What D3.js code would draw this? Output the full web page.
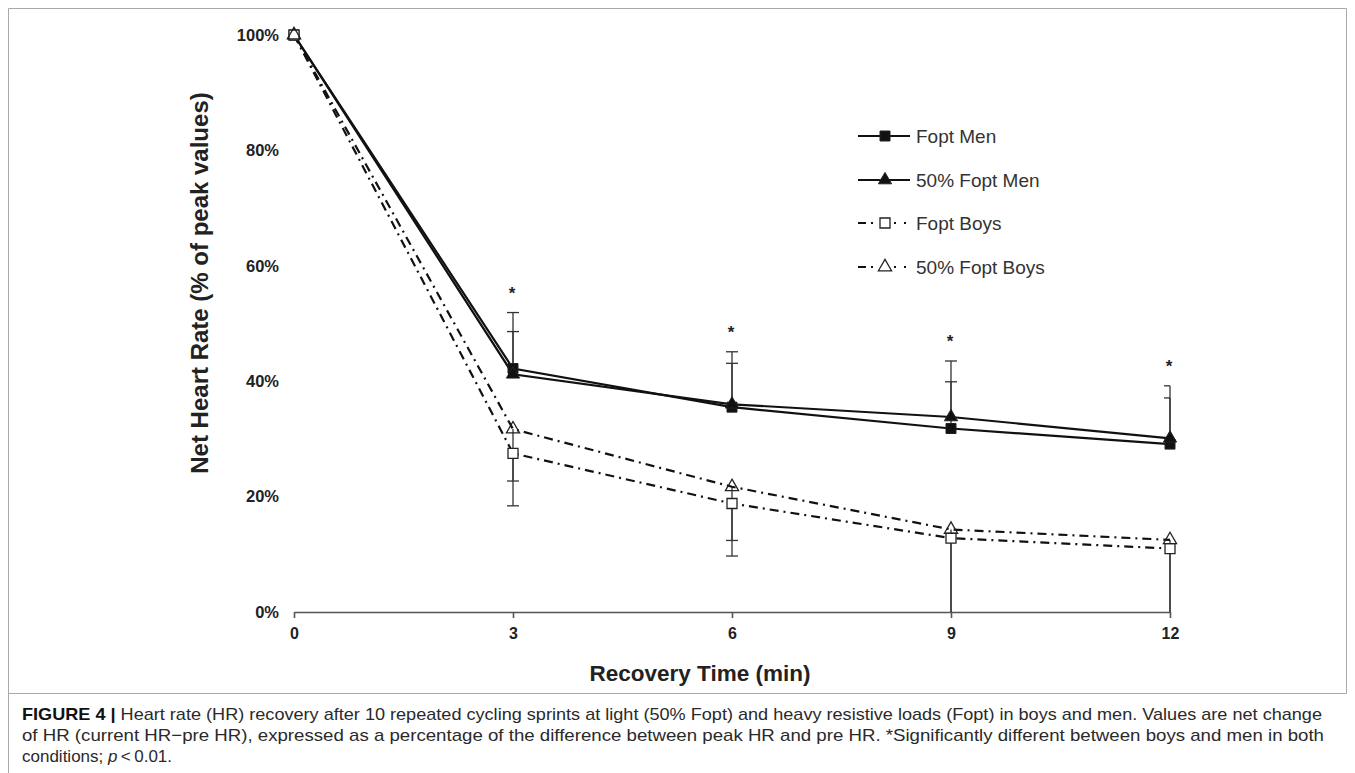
<!DOCTYPE html>
<html><head><meta charset="utf-8">
<script src="https://cdn.jsdelivr.net/npm/d3@7"></script>
<style>
html,body{margin:0;padding:0;background:#fff;}
svg{display:block;font-family:"Liberation Sans",Arial,sans-serif;}
</style></head>
<body>
<svg id="chart" width="1355" height="773"></svg>
<script>
// ---- data ----
const times = [0, 3, 6, 9, 12];
const xTicks = [0, 3, 6, 9, 12];
const yTicks = [0, 20, 40, 60, 80, 100];
const seriesNames = ["Fopt Men", "50% Fopt Men", "Fopt Boys", "50% Fopt Boys"];
const foptMen     = [100, 42.2, 35.5, 31.8, 29.1];
const halfMen     = [100, 41.2, 36.0, 33.8, 30.1];
const foptBoys    = [100, 27.5, 18.8, 12.8, 11.0];
const halfBoys    = [100, 31.7, 21.7, 14.3, 12.5];
// SD (men: drawn upward, boys: drawn downward)
const foptMenSD   = [0, 9.7, 9.6, 11.7, 10.1];
const halfMenSD   = [0, 7.4, 7.1, 6.1, 7.0];
const foptBoysSD  = [0, 9.1, 9.1, 14.0, 12.0];
const halfBoysSD  = [0, 9.0, 9.3, 15.0, 13.0];
const signif      = [false, true, true, true, true];
const captionLines = [
  "Heart rate (HR) recovery after 10 repeated cycling sprints at light (50% Fopt) and heavy resistive loads (Fopt) in boys and men. Values are net change",
  "of HR (current HR\u2212pre HR), expressed as a percentage of the difference between peak HR and pre HR. *Significantly different between boys and men in both",
  "conditions; "
];

const svg = d3.select("#chart");
const x = d3.scaleLinear().domain([0, 12]).range([294, 1170]);
const y = d3.scaleLinear().domain([0, 100]).range([612, 35]);

// frame
svg.append("path").attr("d", "M8.5,773 V8.5 H1346.5 V693.5 H8.5")
  .attr("fill", "none").attr("stroke", "#aaa").attr("stroke-width", 1);

// x axis
const xAxis = d3.axisBottom(x).tickValues(xTicks).tickSize(6).tickSizeOuter(0).tickPadding(10);
const gx = svg.append("g").attr("transform", `translate(0,${y(0)})`).call(xAxis);
gx.select(".domain").attr("stroke", "#555").attr("stroke-width", 1.6);
gx.selectAll(".tick line").attr("stroke", "#555").attr("stroke-width", 1.6);
gx.selectAll(".tick text").attr("fill", "#222").attr("font-size", 16).attr("font-weight", "bold")
  .attr("font-family", "Liberation Sans, Arial, sans-serif");

// y axis labels only
const yAxis = d3.axisLeft(y).tickValues(yTicks).tickSize(0).tickPadding(15).tickFormat(d => d + "%");
const gy = svg.append("g").attr("transform", `translate(294,0)`).call(yAxis);
gy.select(".domain").remove();
gy.selectAll(".tick text").attr("fill", "#222").attr("font-size", 16.5).attr("font-weight", "bold")
  .attr("font-family", "Liberation Sans, Arial, sans-serif");

// axis titles
svg.append("text").attr("x", 700).attr("y", 681).attr("text-anchor", "middle")
  .attr("font-size", 22.5).attr("font-weight", "bold").attr("fill", "#222").text("Recovery Time (min)");
svg.append("text").attr("transform", `translate(208,283) rotate(-90)`)
  .attr("text-anchor", "middle").attr("font-size", 24).attr("font-weight", "bold").attr("fill", "#222")
  .text("Net Heart Rate (% of peak values)");

// error bars
const errG = svg.append("g").attr("stroke", "#333").attr("stroke-width", 1.3);
const capW = 6;
function errBars(vals, sds, dir) {
  times.forEach((t, i) => {
    if (!sds[i]) return;
    const cx = x(t);
    const end = Math.max(0, vals[i] + dir * sds[i]);
    errG.append("line").attr("x1", cx).attr("x2", cx).attr("y1", y(vals[i])).attr("y2", y(end));
    if (end > 0) {
      const right = t === 12 ? cx : cx + capW;
      errG.append("line").attr("x1", cx - capW).attr("x2", right).attr("y1", y(end)).attr("y2", y(end));
    }
  });
}
errBars(foptMen, foptMenSD, 1);
errBars(halfMen, halfMenSD, 1);
errBars(foptBoys, foptBoysSD, -1);
errBars(halfBoys, halfBoysSD, -1);

// lines
const line = d3.line().x((d, i) => x(times[i])).y(d => y(d));
const dashDot = "9,5,2,5";
svg.append("path").attr("d", line(foptMen)).attr("fill", "none").attr("stroke", "#111").attr("stroke-width", 2.2);
svg.append("path").attr("d", line(halfMen)).attr("fill", "none").attr("stroke", "#111").attr("stroke-width", 2.2);
svg.append("path").attr("d", line(foptBoys)).attr("fill", "none").attr("stroke", "#111").attr("stroke-width", 2.2).attr("stroke-dasharray", dashDot);
svg.append("path").attr("d", line(halfBoys)).attr("fill", "none").attr("stroke", "#111").attr("stroke-width", 2.2).attr("stroke-dasharray", dashDot);

// markers (open boys markers drawn on top)
const sq = d3.symbol().type(d3.symbolSquare).size(100);
const tri = d3.symbol().type(d3.symbolTriangle).size(75);
function markers(vals, gen, filled, fillOpen) {
  svg.append("g").selectAll("path").data(vals).join("path")
    .attr("transform", (d, i) => `translate(${x(times[i])},${y(d)})`)
    .attr("d", gen)
    .attr("fill", filled ? "#111" : fillOpen)
    .attr("stroke", "#222").attr("stroke-width", filled ? 1 : 1.3);
}
markers(foptMen, sq, true);
markers(halfMen, tri, true);
markers(foptBoys, sq, false, "#fff");
markers(halfBoys, tri, false, "none");

// significance asterisks
times.forEach((t, i) => {
  if (!signif[i]) return;
  const top = Math.max(foptMen[i] + foptMenSD[i], halfMen[i] + halfMenSD[i]);
  svg.append("text").attr("x", x(t) - 1).attr("y", y(top) - 14).attr("text-anchor", "middle")
    .attr("font-size", 17).attr("font-weight", "bold").attr("fill", "#222").text("*");
});

// legend
const legY = [136, 180, 223, 267];
const legStyles = [
  {dash: null, gen: sq, filled: true},
  {dash: null, gen: tri, filled: true},
  {dash: "8,5,2,21,2,8,2,20", gen: sq, filled: false},
  {dash: "8,5,2,21,2,8,2,20", gen: tri, filled: false}
];
seriesNames.forEach((name, i) => {
  const ly = legY[i];
  svg.append("line").attr("x1", 858).attr("x2", 910).attr("y1", ly).attr("y2", ly)
    .attr("stroke", "#111").attr("stroke-width", 2.2).attr("stroke-dasharray", legStyles[i].dash);
  svg.append("path").attr("transform", `translate(885,${ly})`).attr("d", legStyles[i].gen)
    .attr("fill", legStyles[i].filled ? "#111" : "#fff").attr("stroke", "#222").attr("stroke-width", legStyles[i].filled ? 1 : 1.3);
  svg.append("text").attr("x", 916).attr("y", ly + 7).attr("font-size", 19).attr("fill", "#333").text(name);
});

// caption
const capFont = 17;
const c1 = svg.append("text").attr("x", 22).attr("y", 720).attr("font-size", capFont).attr("fill", "#2a2a2a")
  .attr("textLength", 1300).attr("lengthAdjust", "spacingAndGlyphs");
c1.append("tspan").attr("font-weight", "bold").attr("fill", "#111").text("FIGURE 4 | ");
c1.append("tspan").text(captionLines[0]);
svg.append("text").attr("x", 22).attr("y", 741).attr("font-size", capFont).attr("fill", "#2a2a2a")
  .attr("textLength", 1302).attr("lengthAdjust", "spacingAndGlyphs").text(captionLines[1]);
const c3 = svg.append("text").attr("x", 22).attr("y", 762).attr("font-size", capFont).attr("fill", "#2a2a2a");
c3.append("tspan").text(captionLines[2]);
c3.append("tspan").attr("font-style", "italic").text("p");
c3.append("tspan").text("\u2009<\u20090.01.");
</script>
</body></html>
